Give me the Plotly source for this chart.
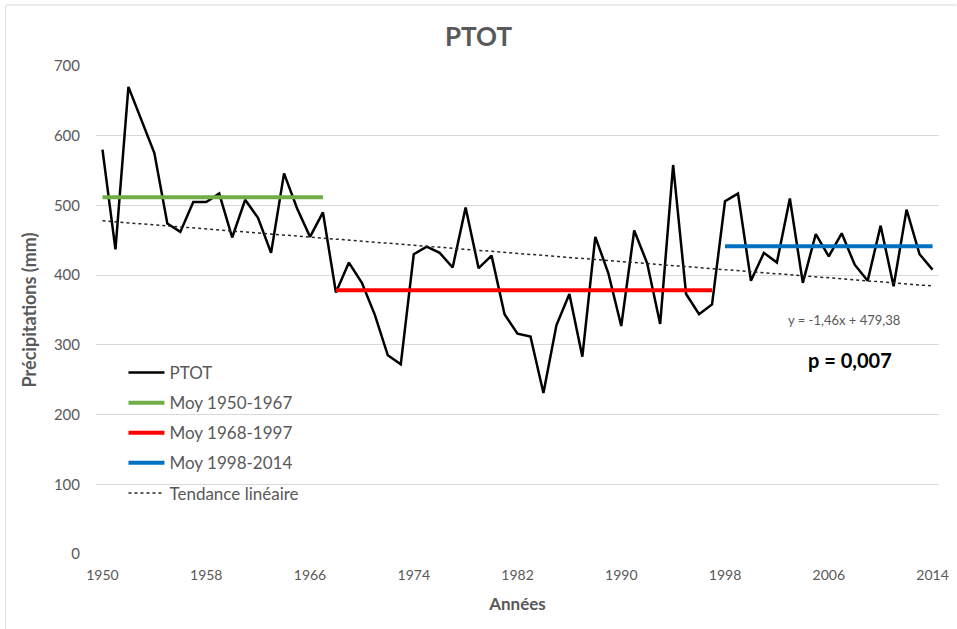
import plotly.graph_objects as go
import numpy as np

years = list(range(1950, 2015))
ptot = [580, 437, 670, 622, 575, 474, 462, 505, 505, 517,
        454, 508, 482, 432, 546, 496, 455, 490, 375, 418,
        389, 343, 285, 272, 430, 441, 432, 411, 497, 410,
        428, 344, 316, 312, 231, 328, 373, 283, 455, 403,
        327, 464, 417, 330, 558, 373, 344, 358, 506, 517,
        392, 432, 418, 510, 389, 459, 427, 460, 415, 392,
        471, 384, 494, 430, 408]

periods = [(1950, 1967, "Moy 1950-1967", "#70AD47"),
           (1968, 1997, "Moy 1968-1997", "#FF0000"),
           (1998, 2014, "Moy 1998-2014", "#0070C0")]

trend_slope = -1.46
trend_intercept = 479.38
x_ticks = list(range(1950, 2015, 8))
y_ticks = list(range(0, 701, 100))

FONT = "Lato"
GRAY = "#595959"

fig = go.Figure()
fig.add_trace(go.Scatter(x=years, y=ptot, mode="lines", name="PTOT", legendgroup="a",
                         line=dict(color="black", width=2.5)))
yr = np.array(years)
vals = np.array(ptot)
for i, (a, b, name, col) in enumerate(periods):
    m = vals[(yr >= a) & (yr <= b)].mean()
    fig.add_trace(go.Scatter(x=[a, b], y=[m, m], mode="lines", name=name, legendgroup=f"p{i}",
                             line=dict(color=col, width=4)))
idx = np.arange(1, len(years) + 1)
fig.add_trace(go.Scatter(x=years, y=trend_slope * idx + trend_intercept, mode="lines",
                         name="Tendance linéaire", legendgroup="t",
                         line=dict(color="#262626", width=1.5, dash="dot")))

W, H = 957, 629
L, R, T, B = 95.5, 17.5, 66, 75
pw, ph = W - L - R, H - T - B

def px(x):
    return (x - L) / pw

def py(y):
    return (H - B - y) / ph

fig.update_layout(
    width=W, height=H,
    margin=dict(l=L, r=R, t=T, b=B),
    paper_bgcolor="white", plot_bgcolor="white",
    font=dict(family=FONT, color=GRAY, size=13),
    title=dict(text="<b>PTOT</b>", x=0.5, xanchor="center", y=1 - 37 / H, yanchor="middle",
               font=dict(size=26, color=GRAY, family=FONT)),
    showlegend=True,
    legend=dict(x=px(123), y=py(355), xanchor="left", yanchor="top",
                bgcolor="rgba(0,0,0,0)", font=dict(size=17, color=GRAY, family=FONT),
                tracegroupgap=5, itemwidth=36),
    xaxis=dict(range=[1949.5, 2014.5], tickmode="array", tickvals=x_ticks,
               ticktext=[str(t) for t in x_ticks], showgrid=False, zeroline=False,
               showline=False, ticks="outside", ticklen=8, tickcolor="rgba(0,0,0,0)",
               tickfont=dict(size=14, color=GRAY), automargin=False,
               title=dict(text="<b>Années</b>", font=dict(size=17, color=GRAY), standoff=16)),
    yaxis=dict(range=[0, 700], tickmode="array", tickvals=y_ticks, showgrid=True,
               gridcolor="#D9D9D9", gridwidth=1, zeroline=False, showline=False,
               ticks="outside", ticklen=12, tickcolor="rgba(0,0,0,0)",
               tickfont=dict(size=15, color=GRAY), automargin=False,
               title=dict(text="<b>Précipitations (mm)</b>", font=dict(size=18, color=GRAY), standoff=12)),
    annotations=[
        dict(text="y = -1,46x + 479,38", x=px(902), y=py(320), xref="paper", yref="paper",
             xanchor="right", yanchor="middle", showarrow=False,
             font=dict(size=13, color=GRAY, family=FONT)),
        dict(text="<b>p = 0,007</b>", x=px(850), y=py(360), xref="paper", yref="paper",
             xanchor="center", yanchor="middle", showarrow=False,
             font=dict(size=20, color="black", family=FONT)),
    ],
    shapes=[
        dict(type="line", xref="paper", yref="paper", x0=px(5), x1=px(957),
             y0=py(5), y1=py(5), line=dict(color="#D9D9D9", width=1)),
        dict(type="line", xref="paper", yref="paper", x0=px(5), x1=px(5),
             y0=py(5), y1=py(629), line=dict(color="#D9D9D9", width=1)),
    ],
)
fig.write_html("out.html", config={"displayModeBar": False},
               post_script="document.body.style.margin='0';document.body.style.overflow='hidden';")
